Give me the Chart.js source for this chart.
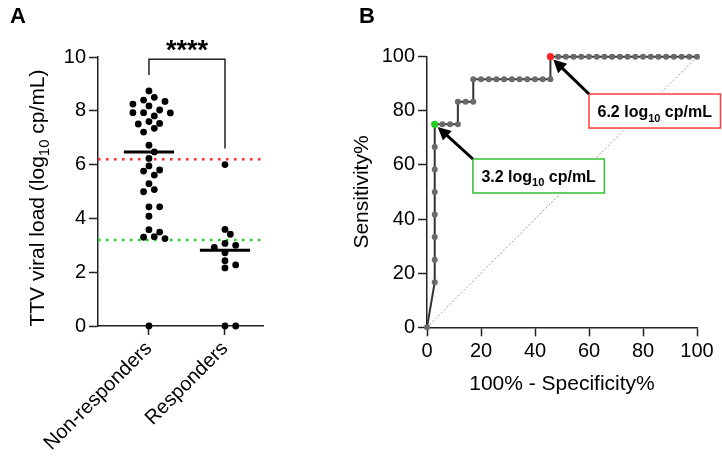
<!DOCTYPE html>
<html>
<head>
<meta charset="utf-8">
<script src="https://cdn.jsdelivr.net/npm/chart.js@4.4.0/dist/chart.umd.min.js"></script>
<style>
  body { margin: 0; background: #fff; }
  #wrap { position: relative; width: 722px; height: 459px; }
  canvas { position: absolute; top: 0; }
</style>
</head>
<body>
<div id="wrap">
  <canvas id="panelA" width="360" height="459" style="left:0"></canvas>
  <canvas id="panelB" width="382" height="459" style="left:340px"></canvas>
</div>
<script>
// panel A data
const groups = ['Non-responders', 'Responders'];
const nonResponders = [8.74, 8.50, 8.40, 8.35, 8.25, 8.18, 8.03, 7.93, 7.93, 7.92, 7.81, 7.60, 7.53, 7.51, 7.35, 7.21,
  6.72, 6.47, 6.23, 5.95, 5.80, 5.76, 5.61, 5.29, 5.07, 4.99, 4.43, 4.43, 4.08, 3.58, 3.49, 3.32, 3.30, 3.25, 0];
const responders = [6.0, 3.59, 3.41, 3.07, 3.0, 2.92, 2.72, 2.43, 2.27, 2.16, 0, 0];
const cutoffLines = [6.2, 3.2];
const cutoffColors = ['#ff2b2b', '#22cc22'];

// panel B data (ROC)
const rocFpr = [0, 2.86, 2.86, 2.86, 2.86, 2.86, 2.86, 2.86, 2.86, 5.71, 8.57, 11.43, 11.43, 14.29, 17.14,
  17.14, 20, 22.86, 25.71, 28.57, 31.43, 34.29, 37.14, 40, 42.86, 45.71,
  45.71, 48.57, 51.43, 54.29, 57.14, 60, 62.86, 65.71, 68.57, 71.43, 74.29, 77.14, 80, 82.86, 85.71, 88.57, 91.43, 94.29, 97.14, 100];
const rocSens = [0, 16.67, 25, 33.33, 41.67, 50, 58.33, 66.67, 75, 75, 75, 75, 83.33, 83.33, 83.33,
  91.67, 91.67, 91.67, 91.67, 91.67, 91.67, 91.67, 91.67, 91.67, 91.67, 91.67,
  100, 100, 100, 100, 100, 100, 100, 100, 100, 100, 100, 100, 100, 100, 100, 100, 100, 100, 100, 100];
const cutoffFpr = [2.86, 45.71];
const cutoffSens = [75, 100];
const cutoffLabels = ['3.2', '6.2'];
const cutoffPointColors = ['#22cc22', '#ff2222'];

Chart.defaults.font.family = "'Liberation Sans', Arial, sans-serif";
Chart.defaults.color = '#000';

const FONT = "'Liberation Sans', Arial, sans-serif";
const AXIS = '#222';

// layout of panel A plot area (canvas px)
const A = { left: 98, right: 263, top: 57, bottom: 326, xMin: 0.33, xMax: 2.5 };
const pxPerXA = (A.right - A.left) / (A.xMax - A.xMin);
const pxPerYA = (A.bottom - A.top) / 10;

// simple beeswarm: lanes every `step` px, dots kept `gap` px apart
function swarm(vals, center, step, gap) {
  const idx = vals.map((v, i) => i).sort((a, b) => vals[b] - vals[a]);
  const lanes = [0];
  for (let k = 1; k <= 6; k++) lanes.push(k * step, -k * step);
  const done = [];
  const out = [];
  idx.forEach(i => {
    const py = vals[i] * pxPerYA;
    let off = 0;
    for (const l of lanes) {
      if (done.every(p => Math.hypot(p.x - l, p.y - py) >= gap)) { off = l; break; }
    }
    done.push({ x: off, y: py });
    out.push({ x: center + off / pxPerXA, y: vals[i] });
  });
  return out;
}

function median(vals) {
  const s = [...vals].sort((a, b) => a - b);
  const m = Math.floor(s.length / 2);
  return s.length % 2 ? s[m] : (s[m - 1] + s[m]) / 2;
}

// text with a subscript part, centred on x, baseline y
function subText(ctx, parts, x, y, size, weight) {
  const fonts = parts.map(p => `${weight} ${p.sub ? Math.round(size * 0.7) : size}px ${FONT}`);
  let w = 0;
  parts.forEach((p, i) => { ctx.font = fonts[i]; w += ctx.measureText(p.t).width; });
  let cx = x - w / 2;
  ctx.textAlign = 'left';
  ctx.textBaseline = 'alphabetic';
  parts.forEach((p, i) => {
    ctx.font = fonts[i];
    ctx.fillText(p.t, cx, y + (p.sub ? size * 0.28 : 0));
    cx += ctx.measureText(p.t).width;
  });
  return w;
}

const axisGrid = { drawOnChartArea: false, drawTicks: true, tickLength: 9, tickColor: AXIS, tickWidth: 1.5 };
const axisBorder = { display: true, color: AXIS, width: 1.5 };

const panelAExtras = {
  id: 'panelAExtras',
  afterDatasetsDraw(chart) {
    const { ctx, scales: { x, y } } = chart;
    ctx.save();
    ctx.fillStyle = '#000';
    // significance bracket
    const x1 = x.getPixelForValue(1), x2 = x.getPixelForValue(2);
    const top = y.getPixelForValue(9.92);
    ctx.strokeStyle = AXIS;
    ctx.lineWidth = 1.5;
    ctx.beginPath();
    ctx.moveTo(x1, y.getPixelForValue(9.33));
    ctx.lineTo(x1, top);
    ctx.lineTo(x2, top);
    ctx.lineTo(x2, y.getPixelForValue(6.6));
    ctx.stroke();
    ctx.font = `bold 27px ${FONT}`;
    ctx.textAlign = 'center';
    ctx.textBaseline = 'alphabetic';
    ctx.fillText('****', (x1 + x2) / 2, top);
    // panel letter
    ctx.font = `bold 22px ${FONT}`;
    ctx.textBaseline = 'middle';
    ctx.fillText('A', 18, 17);
    // y title
    ctx.translate(36, 198);
    ctx.rotate(-Math.PI / 2);
    subText(ctx, [{ t: 'TTV viral load (log' }, { t: '10', sub: true }, { t: ' cp/mL)' }], 0, 7.5, 21, 'normal');
    ctx.restore();
  }
};

const medNon = median(nonResponders), medResp = median(responders);

new Chart(document.getElementById('panelA'), {
  type: 'scatter',
  data: {
    datasets: [
      { data: swarm(nonResponders, 1, 5.35, 7), pointRadius: 3.4, pointBackgroundColor: '#000', pointBorderWidth: 0, order: 0, clip: false },
      { data: swarm(responders, 2, 5.35, 7), pointRadius: 3.4, pointBackgroundColor: '#000', pointBorderWidth: 0, order: 0, clip: false },
      { data: [{ x: 0.67, y: medNon }, { x: 1.33, y: medNon }], showLine: true, borderColor: '#000', borderWidth: 3, pointRadius: 0, order: 1 },
      { data: [{ x: 1.67, y: medResp }, { x: 2.33, y: medResp }], showLine: true, borderColor: '#000', borderWidth: 3, pointRadius: 0, order: 1 },
      ...cutoffLines.map((c, i) => ({
        data: [{ x: A.xMin, y: c }, { x: A.xMax, y: c }], showLine: true, borderColor: cutoffColors[i],
        borderWidth: 2.5, borderDash: [2.5, 5.5], pointRadius: 0, order: 2
      }))
    ]
  },
  options: {
    responsive: false,
    animation: false,
    layout: { padding: { left: 0, right: 360 - A.right, top: A.top, bottom: 0 } },
    plugins: { legend: { display: false }, tooltip: { enabled: false } },
    scales: {
      x: {
        type: 'linear', min: A.xMin, max: A.xMax,
        grid: axisGrid, border: axisBorder,
        afterBuildTicks: s => { s.ticks = [{ value: 1 }, { value: 2 }]; },
        afterFit: s => { s.height = 459 - A.bottom; s.paddingLeft = 0; s.paddingRight = 0; },
        ticks: { callback: v => groups[v - 1], minRotation: 45, maxRotation: 45, autoSkip: false, padding: 2, font: { size: 20 }, color: '#000' }
      },
      y: {
        min: 0, max: 10,
        grid: axisGrid, border: axisBorder,
        afterFit: s => { s.width = A.left; s.paddingTop = 0; s.paddingBottom = 0; },
        ticks: { stepSize: 2, padding: 3, font: { size: 20 }, color: '#000' }
      }
    }
  },
  plugins: [panelAExtras]
});

// panel B
const B = { left: 87, right: 357, top: 56.7, bottom: 327.3 };
// where each cutoff box sits, in data units (top-left corner)
const boxAt = [{ x: 17, y: 62.2 }, { x: 60, y: 86.2 }];
const boxColors = ['#33c233', '#ff3b3b'];

function arrow(ctx, fx, fy, tx, ty) {
  const ang = Math.atan2(ty - fy, tx - fx);
  const ex = tx - Math.cos(ang) * 4, ey = ty - Math.sin(ang) * 4;
  const hl = 13, hw = 6.5;
  const bx = ex - Math.cos(ang) * hl, by = ey - Math.sin(ang) * hl;
  ctx.strokeStyle = '#000';
  ctx.lineWidth = 3;
  ctx.beginPath();
  ctx.moveTo(fx, fy);
  ctx.lineTo(bx + Math.cos(ang) * 2, by + Math.sin(ang) * 2);
  ctx.stroke();
  ctx.fillStyle = '#000';
  ctx.beginPath();
  ctx.moveTo(ex, ey);
  ctx.lineTo(bx - Math.sin(ang) * hw, by + Math.cos(ang) * hw);
  ctx.lineTo(bx + Math.sin(ang) * hw, by - Math.cos(ang) * hw);
  ctx.closePath();
  ctx.fill();
}

const panelBExtras = {
  id: 'panelBExtras',
  afterDatasetsDraw(chart) {
    const { ctx, scales: { x, y } } = chart;
    ctx.save();
    cutoffLabels.forEach((lab, i) => {
      const px = x.getPixelForValue(cutoffFpr[i]), py = y.getPixelForValue(cutoffSens[i]);
      const bx = x.getPixelForValue(boxAt[i].x), by = y.getPixelForValue(boxAt[i].y);
      const parts = [{ t: lab + ' log' }, { t: '10', sub: true }, { t: ' cp/mL' }];
      let w = 0;
      parts.forEach(p => { ctx.font = `bold ${p.sub ? 11 : 16}px ${FONT}`; w += ctx.measureText(p.t).width; });
      const bw = w + 17, bh = 34;
      ctx.fillStyle = '#fff';
      ctx.fillRect(bx, by, bw, bh);
      ctx.strokeStyle = boxColors[i];
      ctx.lineWidth = 1.5;
      ctx.strokeRect(bx, by, bw, bh);
      ctx.fillStyle = '#000';
      subText(ctx, parts, bx + bw / 2, by + 23, 16, 'bold');
      arrow(ctx, bx, by, px, py);
    });
    ctx.fillStyle = '#000';
    ctx.font = `bold 22px ${FONT}`;
    ctx.textAlign = 'center';
    ctx.textBaseline = 'middle';
    ctx.fillText('B', 27, 17);
    ctx.font = `21px ${FONT}`;
    ctx.fillText('100% - Specificity%', (B.left + B.right) / 2, 384);
    ctx.translate(22, 192);
    ctx.rotate(-Math.PI / 2);
    ctx.fillText('Sensitivity%', 0, 0);
    ctx.restore();
  }
};

new Chart(document.getElementById('panelB'), {
  type: 'scatter',
  data: {
    datasets: [
      { data: cutoffFpr.map((v, i) => ({ x: v, y: cutoffSens[i] })), pointRadius: 3.6, pointBackgroundColor: cutoffPointColors, pointBorderWidth: 0, order: 0, clip: false },
      { data: rocFpr.map((v, i) => ({ x: v, y: rocSens[i] })), showLine: true, borderColor: '#333', borderWidth: 2,
        pointRadius: 3, pointBackgroundColor: '#6a6a6a', pointBorderWidth: 0, order: 1, clip: false },
      { data: [{ x: 0, y: 0 }, { x: 100, y: 100 }], showLine: true, borderColor: '#9a9a9a', borderWidth: 1, borderDash: [2, 2], pointRadius: 0, order: 2 }
    ]
  },
  options: {
    responsive: false,
    animation: false,
    layout: { padding: { left: 0, right: 382 - B.right, top: B.top, bottom: 0 } },
    plugins: { legend: { display: false }, tooltip: { enabled: false } },
    scales: {
      x: {
        min: 0, max: 100,
        grid: axisGrid, border: axisBorder,
        afterFit: s => { s.height = 459 - B.bottom; s.paddingLeft = 0; s.paddingRight = 0; },
        ticks: { stepSize: 20, padding: 3, font: { size: 20 }, color: '#000' }
      },
      y: {
        min: 0, max: 100,
        grid: axisGrid, border: axisBorder,
        afterFit: s => { s.width = B.left; s.paddingTop = 0; s.paddingBottom = 0; },
        ticks: { stepSize: 20, padding: 3, font: { size: 20 }, color: '#000' }
      }
    }
  },
  plugins: [panelBExtras]
});
</script>
</body>
</html>
